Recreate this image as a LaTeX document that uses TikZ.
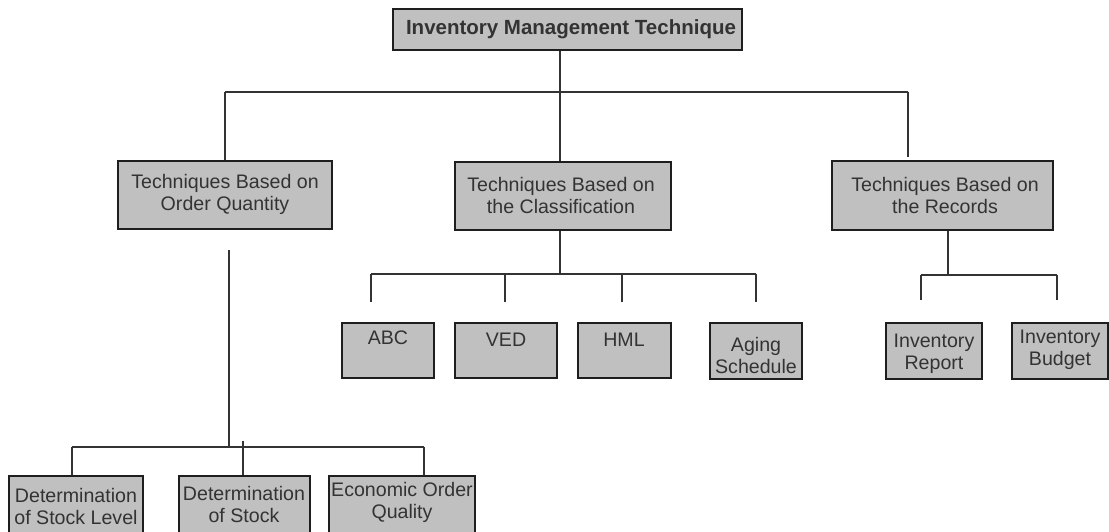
\documentclass[tikz,border=0pt]{standalone}
\usepackage{fontspec}
\setmainfont{Liberation Sans}
\usetikzlibrary{fit}
\definecolor{boxfill}{HTML}{C0C0C0}
\definecolor{ink}{HTML}{333333}
\definecolor{edge}{HTML}{1E1E1E}
\begin{document}
\begin{tikzpicture}[x=1pt,y=-1pt,
  box/.style={draw=edge, fill=boxfill, line width=1.5pt, inner sep=0pt},
  lbl/.style={text=ink, align=center, inner sep=0pt,
              font=\fontsize{19.6}{22}\selectfont},
  conn/.style={draw=ink, line width=1.3pt}]
\clip (0,0) rectangle (1109,531);

% ---- boxes ----
\node[box, fit={(393,9) (742,50)}] (root) {};
\node[box, fit={(118,161) (332,229)}] (qty) {};
\node[box, fit={(455,162) (671,230)}] (cls) {};
\node[box, fit={(832,161) (1053,230)}] (rec) {};

\node[box, fit={(342,323) (434,378)}] (abc) {};
\node[box, fit={(455,323) (557,378)}] (ved) {};
\node[box, fit={(578,323) (671,378)}] (hml) {};
\node[box, fit={(710,323) (802,379)}] (aging) {};

\node[box, fit={(886,323) (982,379)}] (report) {};
\node[box, fit={(1012,323) (1108,379)}] (budget) {};

\node[box, fit={(9,476) (143,545)}] (level) {};
\node[box, fit={(179,476) (310,545)}] (stock) {};
\node[box, fit={(329,476) (475,545)}] (eoq) {};

% ---- labels ----
\node[lbl, font=\fontsize{20.5}{22}\selectfont\bfseries] (rootT) at (571,29)
  {Inventory Management Technique};
\node[lbl] (qtyT) at (225,194) {Techniques Based on\\Order Quantity};
\node[lbl] (clsT) at (561,195) {Techniques Based on\\the Classification};
\node[lbl] (recT) at (945,195) {Techniques Based on\\the Records};

\node[lbl] (abcT) at (388,338) {ABC};
\node[lbl] (vedT) at (506,340) {VED};
\node[lbl] (hmlT) at (624,340) {HML};
\node[lbl] (agingT) at (756,355) {Aging\\Schedule};
\node[lbl] (reportT) at (934,354) {Inventory\\Report};
\node[lbl] (budgetT) at (1060,350) {Inventory\\Budget};

\node[lbl] (levelT) at (76,506) {Determination\\of Stock Level};
\node[lbl] (stockT) at (244,504) {Determination\\of Stock};
\node[lbl] (eoqT) at (402,502) {Economic Order\\Quality};

% ---- connectors: first level ----
\coordinate (hub) at (560,92);
\coordinate (tl) at (225,92);
\coordinate (tr) at (908,92);
\coordinate (trEnd) at (908,157);
\draw[conn] (root.south -| hub) -- (cls.north -| hub);
\draw[conn] (tl) -- (tr);
\draw[conn] (tl) -- (qty.north -| tl);
\draw[conn] (tr) -- (trEnd);

% ---- connectors: classification ----
\coordinate (cj) at (560,274);
\coordinate (c1) at (371,274);
\coordinate (c2) at (505,274);
\coordinate (c3) at (622,274);
\coordinate (c4) at (756,274);
\draw[conn] (cls.south -| cj) -- (cj);
\draw[conn] (c1) -- (c4);
\foreach \c in {c1,c2,c3,c4}
  \draw[conn] (\c) -- ++(0,28);

% ---- connectors: records ----
\coordinate (rj) at (948,275);
\coordinate (r1) at (921,275);
\coordinate (r2) at (1057,275);
\draw[conn] (rec.south -| rj) -- (rj);
\draw[conn] (r1) -- (r2);
\foreach \c in {r1,r2}
  \draw[conn] (\c) -- ++(0,25);

% ---- connectors: order quantity ----
\coordinate (lt) at (229,250);
\coordinate (lj) at (229,447);
\coordinate (l1) at (72,447);
\coordinate (l2) at (243,441);
\coordinate (l3) at (424,447);
\draw[conn] (lt) -- (lj);
\draw[conn] (l1) -- (l3);
\draw[conn] (l1) -- (level.north -| l1);
\draw[conn] (l2) -- (stock.north -| l2);
\draw[conn] (l3) -- (eoq.north -| l3);
\end{tikzpicture}
\end{document}
